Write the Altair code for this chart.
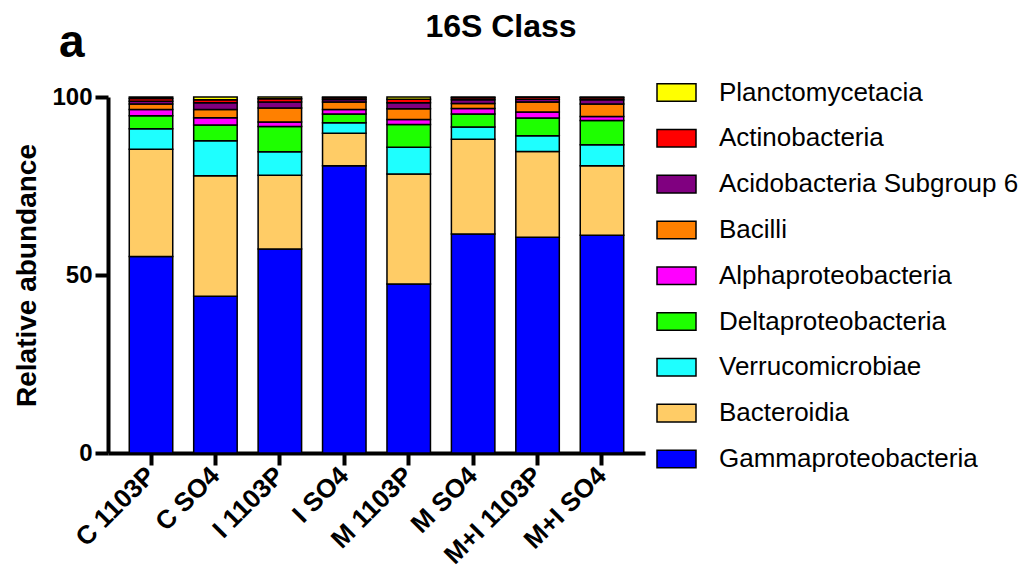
import altair as alt
import pandas as pd

samples = ["C 1103P", "C SO4", "I 1103P", "I SO4", "M 1103P", "M SO4", "M+I 1103P", "M+I SO4"]

# stacking order: bottom -> top
classes = ["Gammaproteobacteria", "Bacteroidia", "Verrucomicrobiae", "Deltaproteobacteria",
           "Alphaproteobacteria", "Bacilli", "Acidobacteria Subgroup 6", "Actinobacteria",
           "Planctomycetacia"]
colors = ["#0000FF", "#FFCC66", "#1EFFFF", "#1EFF00", "#FF00FF", "#FF8000", "#800080",
          "#FF0000", "#FFFF00"]

gamma = [55.2, 44.0, 57.3, 80.7, 47.5, 61.5, 60.6, 61.2]
bacteroidia = [30.1, 33.9, 20.7, 9.1, 30.9, 26.6, 24.1, 19.5]
verruco = [5.8, 9.8, 6.6, 3.0, 7.5, 3.5, 4.4, 5.9]
delta = [3.6, 4.4, 7.1, 2.4, 6.4, 3.6, 5.0, 6.8]
alpha = [1.8, 2.1, 1.3, 1.3, 1.4, 1.6, 1.7, 1.1]
bacilli = [1.5, 2.3, 3.9, 2.1, 3.0, 1.4, 2.8, 3.5]
acido = [0.8, 1.9, 1.7, 0.7, 1.7, 1.0, 0.8, 1.2]
actino = [0.8, 0.8, 0.9, 0.5, 1.0, 0.6, 0.5, 0.6]
plancto = [0.4, 0.8, 0.5, 0.2, 0.6, 0.2, 0.1, 0.2]

series = [gamma, bacteroidia, verruco, delta, alpha, bacilli, acido, actino, plancto]

title_text = ["16S Class"]
panel_text = ["a"]

rows = []
for rank, (cls, vals) in enumerate(zip(classes, series)):
    for s, v in zip(samples, vals):
        rows.append({"sample": s, "cls": cls, "value": v, "rank": rank})
df = pd.DataFrame(rows)

FONT = "Liberation Sans"
legend_order = classes[::-1]
legend_colors = colors[::-1]

bars = alt.Chart(df).mark_bar(stroke="black", strokeWidth=1.5).encode(
    x=alt.X("sample:N", sort=samples, title=None,
            scale=alt.Scale(paddingInner=0.325, paddingOuter=0.33),
            axis=alt.Axis(labelAngle=-45, labelAlign="right", labelBaseline="middle",
                          labelFontSize=26, labelFontWeight="bold", labelFont=FONT,
                          labelColor="black", labelPadding=6, labelLimit=0,
                          domainColor="black", domainWidth=4, tickColor="black",
                          tickWidth=4, tickSize=12, grid=False)),
    y=alt.Y("value:Q", stack="zero", title="Relative abundance",
            scale=alt.Scale(domain=[0, 100], nice=False),
            axis=alt.Axis(values=[0, 50, 100], labelFontSize=24, labelFontWeight="bold",
                          labelFont=FONT, labelColor="black", labelPadding=3,
                          domainColor="black", domainWidth=4, tickColor="black",
                          tickWidth=4, tickSize=13, grid=False,
                          titleFontSize=28, titleFontWeight="bold", titleFont=FONT,
                          titleColor="black", titleAngle=-90, titleX=-73, titleY=178,
                          titleAlign="center", titleBaseline="alphabetic")),
    color=alt.Color("cls:N", title=None,
                    scale=alt.Scale(domain=legend_order, range=legend_colors),
                    legend=alt.Legend(orient="none", legendX=548, legendY=-25,
                                      symbolType="M-1,-0.45H1V0.45H-1Z", symbolSize=1521,
                                      symbolStrokeColor="black", symbolStrokeWidth=1.5,
                                      symbolOpacity=1, labelLimit=0,
                                      labelFontSize=26, labelFont=FONT, labelColor="black",
                                      labelOffset=22, rowPadding=11.8, padding=0)),
    order=alt.Order("rank:Q", sort="ascending"),
)

panel = alt.Chart(pd.DataFrame({"label": panel_text})).mark_text(
    align="left", baseline="alphabetic", fontSize=46, fontWeight="bold", font=FONT,
    color="black").encode(
    text="label:N", x=alt.value(-49), y=alt.value(-40))

title = alt.Chart(pd.DataFrame({"label": title_text})).mark_text(
    align="center", baseline="alphabetic", fontSize=32, fontWeight="bold", font=FONT,
    color="black").encode(
    text="label:N", x=alt.value(393), y=alt.value(-60))

chart = alt.layer(bars, panel, title).properties(
    width=537, height=356,
    autosize=alt.AutoSizeParams(type="none"),
    padding={"left": 100, "top": 89, "right": 379, "bottom": 117},
).configure_view(stroke=None)

chart.save("out.html", embed_options={"renderer": "svg", "actions": False})
